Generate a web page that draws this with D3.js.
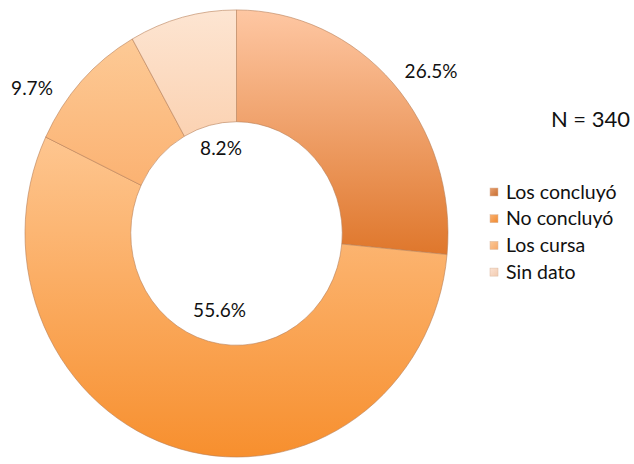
<!DOCTYPE html>
<html>
<head>
<meta charset="utf-8">
<script src="https://cdn.jsdelivr.net/npm/d3@7"></script>
<style>
  body { margin: 0; background: #fff; }
  text { font-family: Lato, "Open Sans", sans-serif; fill: #111; }
</style>
</head>
<body>
<div id="chart"></div>
<script>
var categories = ["Los concluyó", "No concluyó", "Los cursa", "Sin dato"];
var values = [26.5, 55.6, 9.7, 8.2];
var labels = ["26.5%", "55.6%", "9.7%", "8.2%"];
var total = "N = 340";

// gradient stops per slice (top -> bottom)
var grads = [["#fec7a3", "#df772c"], ["#fec690", "#f78f2e"], ["#fdca96", "#fbb272"], ["#fde5d2", "#fbd2b2"]];
var legendColors = [["#e7a070", "#c86e30"], ["#f9b070", "#f08a30"], ["#fbc898", "#f6a868"], ["#fbe3d3", "#f3cbb0"]];

var width = 634, height = 464;
var cx = 236.5, cy = 233.5, r = 211.5, ky = 1.057;

var svg = d3.select("#chart").append("svg")
    .attr("width", width)
    .attr("height", height);

var defs = svg.append("defs");
grads.forEach(function(g, i) {
  var lg = defs.append("linearGradient")
      .attr("id", "g" + i)
      .attr("x1", 0).attr("y1", 0).attr("x2", 0).attr("y2", 1);
  lg.append("stop").attr("offset", "0%").attr("stop-color", g[0]);
  lg.append("stop").attr("offset", "100%").attr("stop-color", g[1]);
});
legendColors.forEach(function(g, i) {
  var lg = defs.append("linearGradient")
      .attr("id", "lg" + i)
      .attr("x1", 0).attr("y1", 0).attr("x2", 1).attr("y2", 1);
  lg.append("stop").attr("offset", "0%").attr("stop-color", g[0]);
  lg.append("stop").attr("offset", "100%").attr("stop-color", g[1]);
});

var pie = d3.pie().sort(null).value(function(d) { return d; });
var arc = d3.arc().outerRadius(r).innerRadius(r * 0.5);
var arcs = pie(values);

var g = svg.append("g")
    .attr("transform", "translate(" + cx + "," + cy + ") scale(1," + ky + ")");

g.selectAll("path.slice")
  .data(arcs)
  .enter().append("path")
    .attr("class", "slice")
    .attr("d", arc)
    .attr("fill", function(d, i) { return "url(#g" + i + ")"; })
    .attr("stroke", "#b98058")
    .attr("stroke-opacity", 0.6)
    .attr("stroke-width", 1)
    .attr("vector-effect", "non-scaling-stroke");

// label positions
var labelX = [431, 219.5, 32, 221];
var labelY = [78, 317, 95, 155];

svg.selectAll("text.pct")
  .data(labels)
  .enter().append("text")
    .attr("class", "pct")
    .attr("x", function(d, i) { return labelX[i]; })
    .attr("y", function(d, i) { return labelY[i]; })
    .attr("text-anchor", "middle")
    .style("font-size", "19px")
    .text(function(d) { return d; });

svg.append("text")
    .attr("x", 630)
    .attr("y", 127)
    .attr("text-anchor", "end")
    .style("font-size", "22px")
    .text(total);

var legend = svg.selectAll("g.legend")
  .data(categories)
  .enter().append("g")
    .attr("class", "legend")
    .attr("transform", function(d, i) { return "translate(490," + (192 + i * 26.7) + ")"; });

legend.append("rect")
    .attr("x", 0)
    .attr("y", -4)
    .attr("width", 8)
    .attr("height", 8)
    .attr("fill", function(d, i) { return "url(#lg" + i + ")"; })
    .attr("stroke", "#d9b9a0")
    .attr("stroke-width", 0.5);

legend.append("text")
    .attr("x", 16)
    .attr("y", 6.5)
    .style("font-size", "19.5px")
    .text(function(d) { return d; });
</script>
</body>
</html>
